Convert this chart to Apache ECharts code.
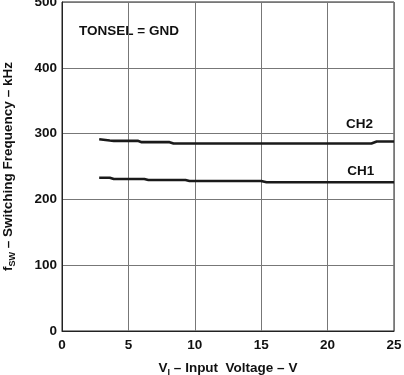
<!DOCTYPE html>
<html>
<head>
<meta charset="utf-8">
<script src="https://cdn.jsdelivr.net/npm/echarts@6/dist/echarts.min.js"></script>
<style>
html,body{margin:0;padding:0;background:#fff;}
#c{width:404px;height:375px;}
</style>
</head>
<body>
<div id="c"></div>
<script>
// X axis: input voltage (V)
const ch2Volts = [2.8, 3.6, 3.9, 5.7, 6.0, 8.1, 8.4, 23.3, 23.7, 25];
const ch2Freq  = [291.5, 289.5, 289, 289, 287, 287, 285, 285, 288, 288];
const ch1Volts = [2.8, 3.6, 3.9, 6.2, 6.5, 9.3, 9.6, 15.0, 15.4, 25];
const ch1Freq  = [233, 233, 231, 231, 229.5, 229.5, 228, 228, 226, 226];
const xTicks = [0, 5, 10, 15, 20, 25];
const yTicks = [0, 100, 200, 300, 400, 500];
const seriesNames = ['CH2', 'CH1'];
const labelPos = [[22.4, 314], [22.5, 242]];

const FONT = '"Liberation Sans", Arial, sans-serif';
const FS = 13.5;
const chart = echarts.init(document.getElementById('c'), null, {renderer: 'canvas'});

function pairs(xs, ys) { return xs.map((x, i) => [x, ys[i]]); }

function mkSeries(name, xs, ys, lp) {
  return {
    name: name,
    type: 'line',
    data: pairs(xs, ys),
    symbol: 'none',
    lineStyle: {color: '#1a1a1a', width: 2.6},
    z: 5,
    markPoint: {
      symbol: 'circle', symbolSize: 0,
      label: {show: true, formatter: name, color: '#111', fontFamily: FONT,
              fontWeight: 'bold', fontSize: FS, position: 'inside'},
      data: [{coord: lp, value: name}]
    }
  };
}

chart.setOption({
  animation: false,
  backgroundColor: '#fff',
  grid: {left: 62, right: 10, top: 2, bottom: 44, show: true,
         borderColor: '#222', borderWidth: 1,
         containLabel: false, outerBoundsMode: 'none'},
  xAxis: {
    type: 'value', min: xTicks[0], max: xTicks[xTicks.length - 1], interval: 5,
    name: '{m|V}{s|I}{m| – Input  Voltage – V}',
    nameLocation: 'middle', nameGap: 28,
    nameTextStyle: {rich: {
      m: {fontFamily: FONT, fontWeight: 'bold', fontSize: FS, color: '#111'},
      s: {fontFamily: FONT, fontWeight: 'bold', fontSize: 9, color: '#111', padding: [9, 0, 0, 0]}
    }},
    axisLine: {show: true, lineStyle: {color: '#222', width: 1}},
    axisTick: {show: false},
    axisLabel: {fontFamily: FONT, fontWeight: 'bold', fontSize: FS, color: '#111', margin: 7},
    splitLine: {show: true, lineStyle: {color: '#777', width: 1}}
  },
  yAxis: {
    type: 'value', min: yTicks[0], max: yTicks[yTicks.length - 1], interval: 100,
    name: '{m|f}{s|SW}{m| – Switching Frequency – kHz}',
    nameLocation: 'middle', nameGap: 45, nameRotate: 90,
    nameTextStyle: {rich: {
      m: {fontFamily: FONT, fontWeight: 'bold', fontSize: FS, color: '#111'},
      s: {fontFamily: FONT, fontWeight: 'bold', fontSize: 9, color: '#111', padding: [9, 0, 0, 0]}
    }},
    axisLine: {show: true, lineStyle: {color: '#222', width: 1}},
    axisTick: {show: false},
    axisLabel: {fontFamily: FONT, fontWeight: 'bold', fontSize: FS, color: '#111', margin: 5},
    splitLine: {show: true, lineStyle: {color: '#777', width: 1}}
  },
  graphic: [{
    type: 'text', left: 79, top: 24,
    style: {text: 'TONSEL = GND', fill: '#111', font: 'bold ' + FS + 'px ' + FONT}
  }],
  series: [
    mkSeries(seriesNames[0], ch2Volts, ch2Freq, labelPos[0]),
    mkSeries(seriesNames[1], ch1Volts, ch1Freq, labelPos[1])
  ]
});
</script>
</body>
</html>
